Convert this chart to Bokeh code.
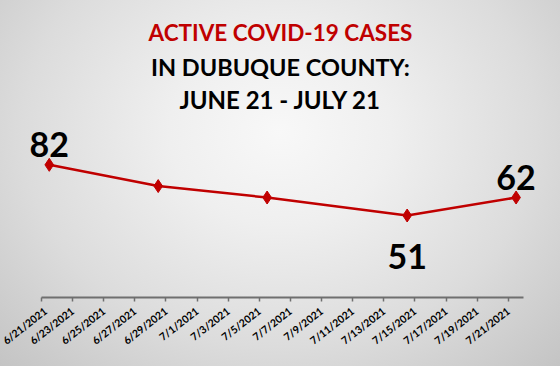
import math
import pandas as pd
from bokeh.plotting import figure
from bokeh.models import (FixedTicker, Label, CDSView, IndexFilter, ColumnDataSource,
                          InlineStyleSheet, Range1d)
from bokeh.embed import file_html
from bokeh.resources import INLINE
from bokeh.core.properties import value

# ---- data ----
dates = ["6/21/2021", "6/28/2021", "7/5/2021", "7/14/2021", "7/21/2021"]
cases = [82, 69, 62, 51, 62]
tick_labels = ["6/21/2021", "6/23/2021", "6/25/2021", "6/27/2021", "6/29/2021",
               "7/1/2021", "7/3/2021", "7/5/2021", "7/7/2021", "7/9/2021",
               "7/11/2021", "7/13/2021", "7/15/2021", "7/17/2021", "7/19/2021",
               "7/21/2021"]
title_lines = ["ACTIVE COVID-19 CASES", "IN DUBUQUE COUNTY:", "JUNE 21 - JULY 21"]

# ---- layout constants ----
W, H = 560, 366
FRAME_H = 297
PX_PER_DAY = 15.56
DAY0_PX = 41.0
PX_PER_UNIT = 1.635
Y0_PX = 298.4
RED = "#c00000"
FONT = "Lato"

start = pd.to_datetime(dates[0], format="%m/%d/%Y")
day_of = lambda s: (pd.to_datetime(s, format="%m/%d/%Y") - start).days
xs = [day_of(d) + 0.5 for d in dates]
tick_pos = [day_of(t) for t in tick_labels]
axis_end = day_of(dates[-1]) + 1

def px_to_x(px):
    return (px - DAY0_PX) / PX_PER_DAY

def py_to_y(py):
    return (Y0_PX - py) / PX_PER_UNIT

p = figure(width=W, height=H, output_backend="svg", toolbar_location=None,
           x_range=Range1d(px_to_x(0), px_to_x(W)),
           y_range=Range1d(py_to_y(FRAME_H), py_to_y(0)),
           y_axis_location=None, min_border_left=0, min_border_right=0,
           min_border_top=0, min_border_bottom=H - FRAME_H)
p.outline_line_color = None
p.grid.visible = False
p.background_fill_alpha = 0
p.border_fill_alpha = 0
p.stylesheets = [InlineStyleSheet(css=":host { background: radial-gradient(ellipse farthest-corner at 50% 36%, #f8f8f8 0%, #efefef 28%, #dcdcdc 65%, #c4c4c4 100%); }")]

ax = p.xaxis[0]
ax.bounds = (0, axis_end)
ax.ticker = FixedTicker(ticks=tick_pos)
ax.major_label_overrides = {t: l for t, l in zip(tick_pos, tick_labels)}
ax.major_label_orientation = math.radians(38)
ax.major_label_text_font = FONT
ax.major_label_text_font_style = "bold"
ax.major_label_text_font_size = "10.5px"
ax.major_label_text_color = "#000000"
ax.major_label_standoff = 8
ax.axis_line_color = "#6f6f6f"
ax.axis_line_width = 2
ax.major_tick_line_color = "#6f6f6f"
ax.major_tick_line_width = 1.5
ax.major_tick_in = 0
ax.major_tick_out = 4
ax.minor_tick_line_color = None

src = ColumnDataSource(dict(x=xs, y=cases, label=[str(c) for c in cases]))
p.line("x", "y", source=src, line_color=RED, line_width=2.5)
p.scatter("x", "y", source=src, marker="diamond", size=13, fill_color=RED, line_color=RED)

common = dict(text="label", source=src, text_font=value(FONT), text_font_style="bold",
              text_font_size="34px", text_color="#000000", text_align="center",
              text_baseline="alphabetic")
p.text("x", "y", view=CDSView(filter=IndexFilter([0, 4])), y_offset=-20, **common)
p.text("x", "y", view=CDSView(filter=IndexFilter([3])), y_offset=41, **common)

title_specs = [(32.3, RED, "22.5px"), (66.7, "#000000", "23.5px"), (99.0, "#000000", "24px")]
for line, (py, col, fs) in zip(title_lines, title_specs):
    p.add_layout(Label(x=px_to_x(280), y=py_to_y(py), text=line, text_align="center",
                       text_baseline="alphabetic", text_font=FONT, text_font_style="bold",
                       text_font_size=fs, text_color=col))

open("out.html", "w").write(file_html(p, INLINE))
